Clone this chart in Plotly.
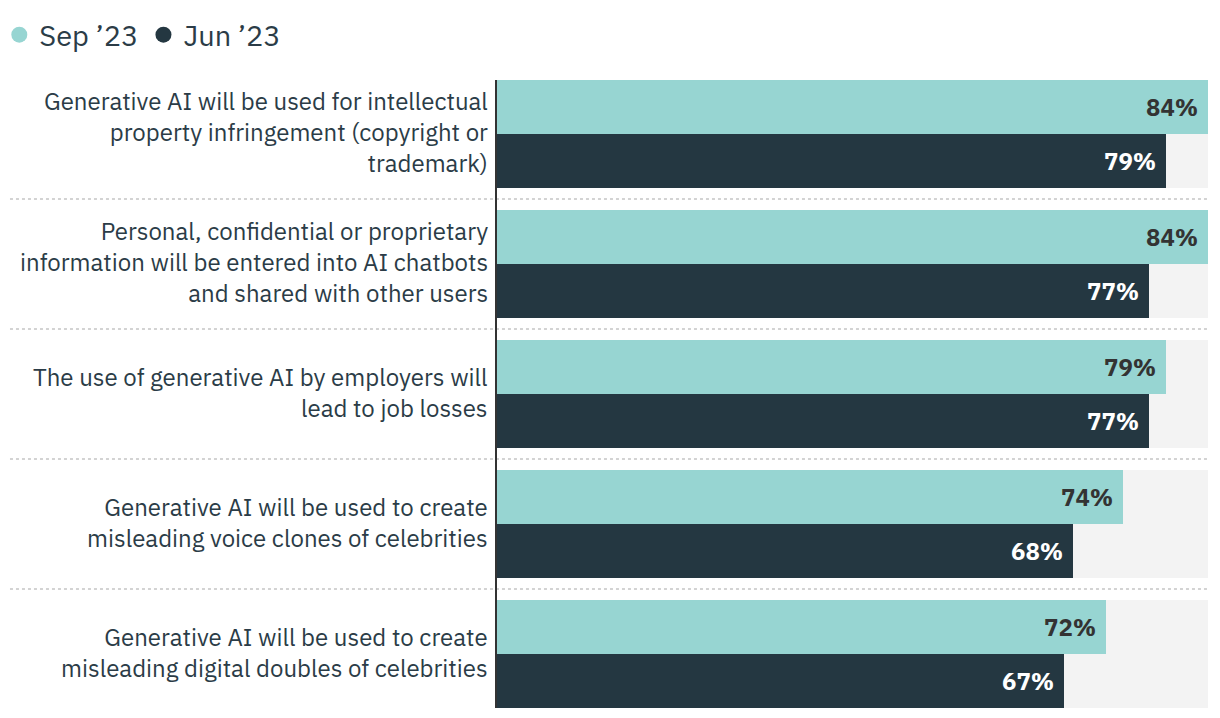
import plotly.graph_objects as go

categories = [
    "Generative AI will be used for intellectual<br>property infringement (copyright or<br>trademark)",
    "Personal, confidential or proprietary<br>information will be entered into AI chatbots<br>and shared with other users",
    "The use of generative AI by employers will<br>lead to job losses",
    "Generative AI will be used to create<br>misleading voice clones of celebrities",
    "Generative AI will be used to create<br>misleading digital doubles of celebrities",
]
sep23 = [84, 84, 79, 74, 72]
jun23 = [79, 77, 77, 68, 67]
series_names = ["Sep \u201923", "Jun \u201923"]

TEAL = "#97D5D2"
DARK = "#243741"
GREY = "#F3F3F3"
TEXT = "#2B3C47"
FONT = "IBM Plex Sans, Noto Sans, sans-serif"

xmax = max(sep23 + jun23)
idx = list(range(len(categories)))
BAR_W = 0.4154

fig = go.Figure()
fig.add_trace(go.Bar(
    y=idx, x=[xmax] * len(idx), orientation="h", width=2 * BAR_W, offset=-BAR_W,
    marker=dict(color=GREY, line=dict(width=0)), showlegend=False, hoverinfo="skip"))
fig.add_trace(go.Bar(
    y=idx, x=sep23, orientation="h", width=BAR_W, offset=-BAR_W,
    marker=dict(color=TEAL, line=dict(width=0)), showlegend=False, name=series_names[0]))
fig.add_trace(go.Bar(
    y=idx, x=jun23, orientation="h", width=BAR_W, offset=0,
    marker=dict(color=DARK, line=dict(width=0)), showlegend=False, name=series_names[1]))

# legend entries with round markers
for nm, col in zip(series_names, [TEAL, DARK]):
    fig.add_trace(go.Scatter(x=[None], y=[None], mode="markers", name=nm,
                             marker=dict(color=col, size=19, symbol="circle")))

annotations = []
for i, (cat, a, b) in enumerate(zip(categories, sep23, jun23)):
    annotations.append(dict(x=0, xref="paper", y=i, yref="y", text=cat, showarrow=False,
                            xanchor="right", yanchor="middle", align="right", xshift=-7,
                            yshift=2, font=dict(family=FONT, size=24, color=TEXT)))
    annotations.append(dict(x=a, y=i - BAR_W / 2, text=f"<b>{a}%</b>", showarrow=False,
                            xanchor="right", yanchor="middle", xshift=-8,
                            font=dict(family=FONT, size=24, color="#333333")))
    annotations.append(dict(x=b, y=i + BAR_W / 2, text=f"<b>{b}%</b>", showarrow=False,
                            xanchor="right", yanchor="middle", xshift=-8,
                            font=dict(family=FONT, size=24, color="#FFFFFF")))

shapes = []
for i in idx[:-1]:
    shapes.append(dict(type="line", xref="paper", yref="y", x0=-0.685, x1=1,
                       y0=i + 0.5, y1=i + 0.5, layer="below",
                       line=dict(color="#D3D3D3", width=2, dash="dot")))

# page body has an 8px default margin; margins below compensate for it
fig.update_layout(
    width=1220, height=718,
    margin=dict(l=489, r=20, t=72, b=18, autoexpand=False),
    plot_bgcolor="white", paper_bgcolor="white",
    barmode="overlay", bargap=0,
    xaxis=dict(range=[0, xmax], visible=False, fixedrange=True),
    yaxis=dict(range=[len(idx) - 1 + BAR_W, -BAR_W], showticklabels=False,
               showgrid=False, zeroline=False, showline=True, linecolor="#333333",
               linewidth=2, ticks=""),
    legend=dict(orientation="h", x=-0.700, xanchor="left", y=1.072, yanchor="middle",
                font=dict(family=FONT, size=29, color=TEXT), itemwidth=30,
                tracegroupgap=0, bgcolor="rgba(0,0,0,0)"),
    annotations=annotations, shapes=shapes,
    showlegend=True,
)

fig.write_html("out.html")
